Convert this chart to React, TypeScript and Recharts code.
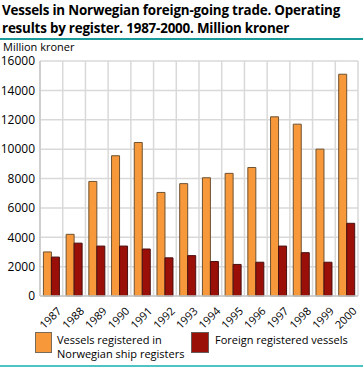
import { BarChart, Bar, XAxis, YAxis, CartesianGrid, Legend } from 'recharts';

const years = ['1987', '1988', '1989', '1990', '1991', '1992', '1993', '1994', '1995', '1996', '1997', '1998', '1999', '2000'];
const norwegian = [3000, 4200, 7800, 9550, 10450, 7050, 7650, 8050, 8350, 8750, 12200, 11700, 10000, 15100];
const foreign = [2650, 3600, 3400, 3400, 3200, 2600, 2750, 2350, 2150, 2300, 3400, 2950, 2300, 4950];
const yTicks = [0, 2000, 4000, 6000, 8000, 10000, 12000, 14000, 16000];

const data = years.map((year, i) => ({ year, norwegian: norwegian[i], foreign: foreign[i] }));

const font = '"Open Sans", "Noto Sans", sans-serif';

const XTick = ({ x, y, payload }: any) => (
  <text
    x={x + 4}
    y={y + 1}
    transform={`rotate(-45 ${x + 4} ${y + 1})`}
    textAnchor="end"
    dominantBaseline="hanging"
    fontSize={11}
    fontFamily={font}
    fill="#000"
  >
    {payload.value}
  </text>
);

const LegendContent = () => (
  <div style={{ display: 'flex', fontFamily: font, fontSize: 11, color: '#000', lineHeight: '14px', whiteSpace: 'nowrap' }}>
    <div style={{ display: 'flex', width: 156, marginLeft: 35 }}>
      <div style={{ width: 15, height: 19, background: '#f7993a', border: '1px solid #7a6a5a', marginTop: -1 }} />
      <div style={{ marginLeft: 5 }}>
        Vessels registered in
        <br />
        Norwegian ship registers
      </div>
    </div>
    <div style={{ display: 'flex' }}>
      <div style={{ width: 16, height: 19, background: '#9a0f08', border: '1px solid #6a5a5a', marginTop: -1 }} />
      <div style={{ marginLeft: 6 }}>Foreign registered vessels</div>
    </div>
  </div>
);

export default function App() {
  return (
    <div style={{ position: 'absolute', left: 0, top: 0, width: 363, height: 367, background: '#fff', fontFamily: font }}>
      <div
        style={{
          position: 'absolute',
          left: 2,
          top: 1,
          fontFamily: '"Open Sans", sans-serif',
          fontWeight: 700,
          fontSize: 13.4,
          lineHeight: '18px',
          color: '#000',
          letterSpacing: -0.2,
          whiteSpace: 'nowrap',
        }}
      >
        Vessels in Norwegian foreign-going trade. Operating
        <br />
        results by register. 1987-2000. Million kroner
      </div>
      <div style={{ position: 'absolute', left: 0, top: 38, width: 363, height: 2, background: '#1b9a9a' }} />
      <div style={{ position: 'absolute', left: 3, top: 39, fontSize: 11, lineHeight: '15px', color: '#000' }}>Million kroner</div>
      <div style={{ position: 'absolute', left: 0, top: 365, width: 363, height: 2, background: '#4ec3c3' }} />
      <div style={{ position: 'absolute', left: 0, top: 0 }}>
        <BarChart
          width={363}
          height={367}
          data={data}
          margin={{ top: 61, right: 5, bottom: 0, left: 0 }}
          barCategoryGap="15%"
          barGap={0}
        >
          <CartesianGrid
            stroke="#d9d9d9"
            strokeWidth={1.5}
            verticalCoordinatesGenerator={({ offset }: any) =>
              years.map((_, i) => offset.left + (i * offset.width) / years.length).concat(offset.left + offset.width)
            }
          />
          <XAxis
            dataKey="year"
            tick={<XTick />}
            tickLine={false}
            axisLine={{ stroke: '#c8c8c8', strokeWidth: 1.5 }}
            height={43}
            interval={0}
          />
          <YAxis
            ticks={yTicks}
            domain={[0, 16000]}
            width={40}
            tickSize={0}
            tickMargin={5}
            tickLine={false}
            axisLine={{ stroke: '#c8c8c8', strokeWidth: 1.5 }}
            tick={{ fontSize: 12, fontFamily: font, fill: '#000' }}
          />
          <Legend content={<LegendContent />} verticalAlign="bottom" wrapperStyle={{ bottom: 6, left: 0, width: 363 }} />
          <Bar dataKey="norwegian" fill="#f7993a" stroke="#6e5232" strokeWidth={1} isAnimationActive={false} />
          <Bar dataKey="foreign" fill="#9a0f08" stroke="#4a1010" strokeWidth={1} isAnimationActive={false} />
        </BarChart>
      </div>
    </div>
  );
}
